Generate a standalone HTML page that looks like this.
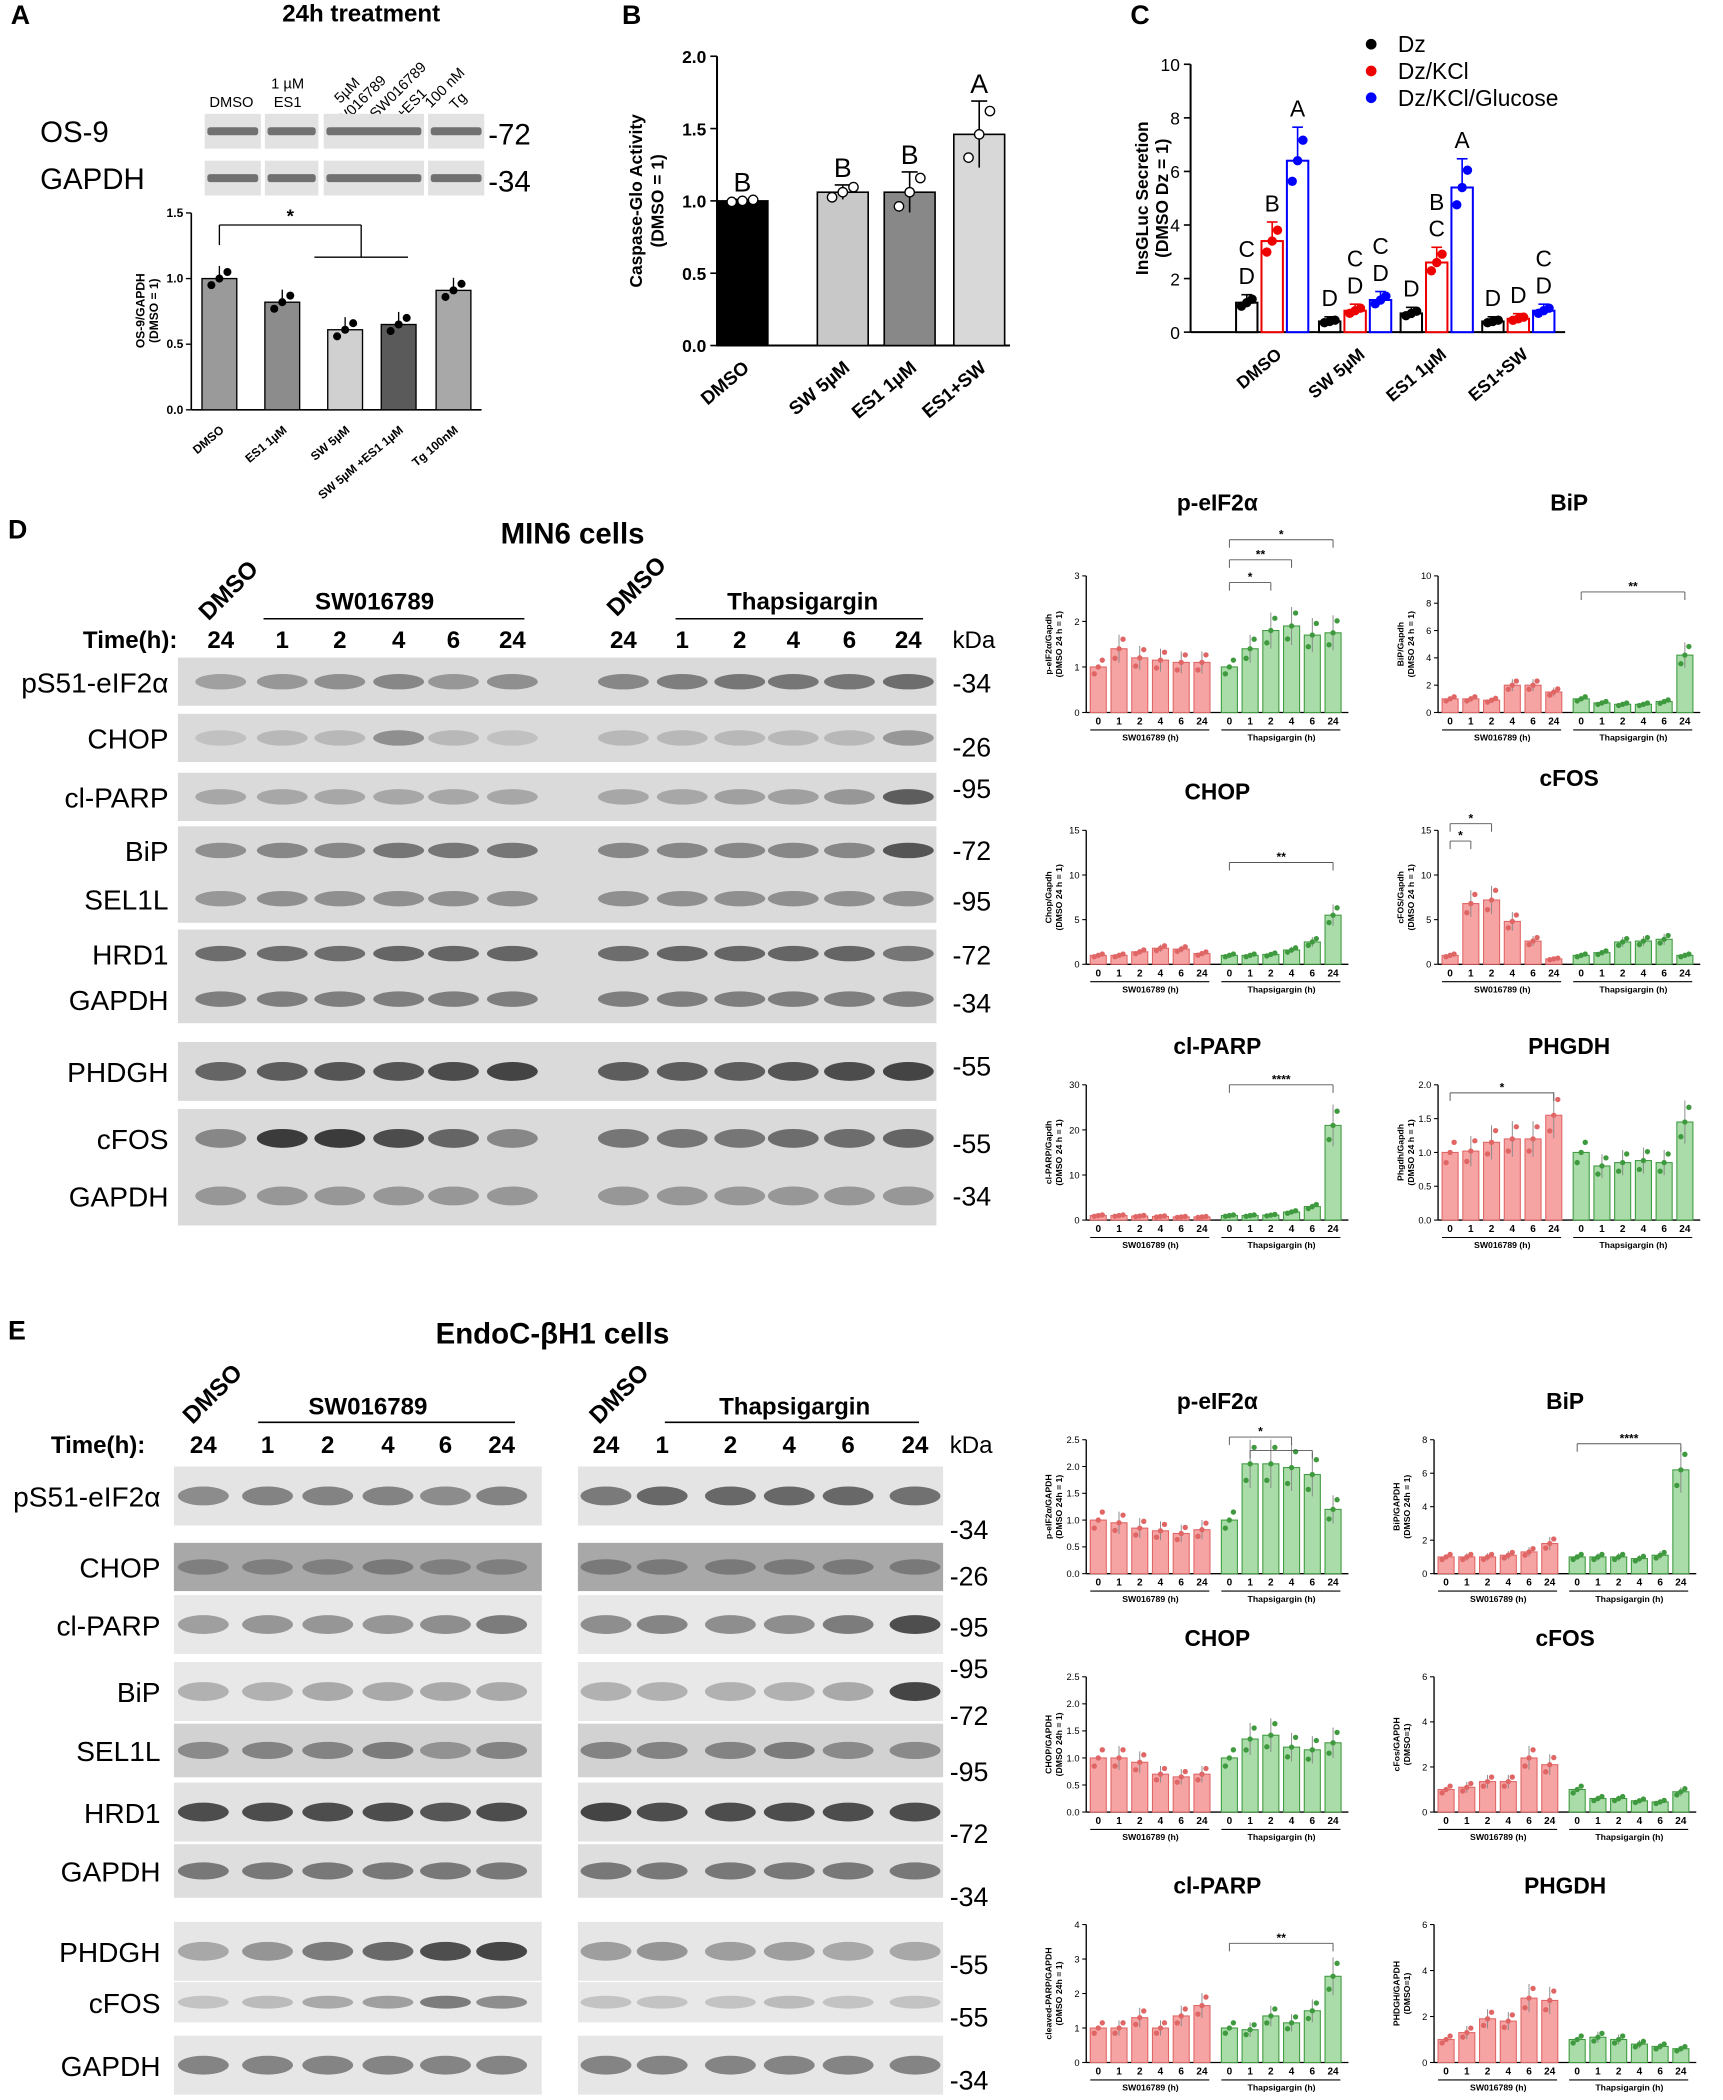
<!DOCTYPE html>
<html><head><meta charset="utf-8">
<style>
html,body{margin:0;padding:0;background:#fff;}
#wrap{width:1723px;height:2100px;overflow:hidden;}
svg text{font-family:"Liberation Sans","DejaVu Sans",sans-serif;}
</style></head>
<body>
<div id="wrap">
<svg id="fig" width="1723" height="2100" viewBox="0 0 1288 1568" preserveAspectRatio="none" xmlns="http://www.w3.org/2000/svg"></svg>
</div>
<script>
// ---------- DATA ----------
const aCats=["DMSO","ES1 1µM","SW 5µM","SW 5µM +ES1 1µM","Tg 100nM"];
const aVals=[1.0,0.82,0.61,0.65,0.91];
const aTicks=[0.0,0.5,1.0,1.5];
const bCats=["DMSO","SW 5µM","ES1 1µM","ES1+SW"];
const bVals=[1.0,1.06,1.06,1.46];
const bLetters=["B","B","B","A"];
const bTicks=[0.0,0.5,1.0,1.5,2.0];
const cCats=["DMSO","SW 5µM","ES1 1µM","ES1+SW"];
const cDz=[1.1,0.4,0.7,0.4];
const cKCl=[3.4,0.8,2.6,0.5];
const cGlu=[6.4,1.2,5.4,0.8];
const cSeries=["Dz","Dz/KCl","Dz/KCl/Glucose"];
const cTicks=[0,2,4,6,8,10];
const timeLabels=["0","1","2","4","6","24"];
// MIN6 mini charts
const mPeifRed=[1,1.4,1.2,1.15,1.1,1.1], mPeifGreen=[1,1.4,1.8,1.9,1.7,1.75], mPeifTicks=[0,1,2,3];
const mBipRed=[1,1,0.9,2,2,1.5], mBipGreen=[1,0.7,0.6,0.6,0.8,4.2], mBipTicks=[0,2,4,6,8,10];
const mChopRed=[1,1,1.4,1.8,1.7,1.2], mChopGreen=[1,1,1.1,1.6,2.5,5.5], mChopTicks=[0,5,10,15];
const mFosRed=[1,6.8,7.2,4.8,2.6,0.6], mFosGreen=[1,1.3,2.5,2.6,2.8,1.0], mFosTicks=[0,5,10,15];
const mParpRed=[1,1,0.9,0.8,0.7,0.7], mParpGreen=[1,1,1.1,1.8,3,21], mParpTicks=[0,10,20,30];
const mPhgRed=[1,1.02,1.15,1.2,1.2,1.55], mPhgGreen=[1,0.8,0.85,0.88,0.85,1.45], mPhgTicks=[0.0,0.5,1.0,1.5,2.0];
// EndoC mini charts
const ePeifRed=[1,0.95,0.85,0.8,0.75,0.82], ePeifGreen=[1,2.05,2.05,1.98,1.85,1.2], ePeifTicks=[0,0.5,1.0,1.5,2.0,2.5];
const eBipRed=[1,1,1,1.1,1.3,1.8], eBipGreen=[1,1,1,0.9,1.1,6.2], eBipTicks=[0,2,4,6,8];
const eChopRed=[1,1,0.92,0.7,0.65,0.7], eChopGreen=[1,1.35,1.42,1.2,1.15,1.28], eChopTicks=[0,0.5,1.0,1.5,2.0,2.5];
const eFosRed=[1,1.1,1.35,1.35,2.4,2.1], eFosGreen=[1,0.6,0.6,0.5,0.45,0.9], eFosTicks=[0,2,4,6];
const eParpRed=[1,1,1.3,1,1.35,1.65], eParpGreen=[1,0.95,1.35,1.15,1.5,2.5], eParpTicks=[0,1,2,3,4];
const ePhgRed=[1,1.3,1.9,1.8,2.8,2.7], ePhgGreen=[1,1.1,1.0,0.8,0.7,0.6], ePhgTicks=[0,2,4,6];

// ---------- HELPERS ----------
const NS="http://www.w3.org/2000/svg";
const svg=document.getElementById('fig');
function mk(tag,attrs,parent){const e=document.createElementNS(NS,tag);for(const k in attrs)e.setAttribute(k,attrs[k]);(parent||svg).appendChild(e);return e;}
function txt(x,y,s,size,opts,parent){opts=opts||{};const e=mk('text',{x:x,y:y,'font-size':size,'text-anchor':opts.anchor||'middle','font-weight':opts.bold?'bold':'normal',fill:opts.fill||'#000'},parent);if(opts.rot!==undefined)e.setAttribute('transform','rotate('+opts.rot+' '+x+' '+y+')');e.textContent=s;return e;}
function line(x1,y1,x2,y2,w,c,parent){return mk('line',{x1:x1,y1:y1,x2:x2,y2:y2,stroke:c||'#000','stroke-width':w||1},parent);}
function linScale(d0,d1,r0,r1){return v=>r0+(v-d0)/(d1-d0)*(r1-r0);}

[["A",8,18],["B",465,18],["C",845,18],["D",6,402],["E",6,1000]].forEach(p=>{
  const t=txt(p[1],p[2],p[0],20,{anchor:'start',bold:true});
  
  
});

// ---------- PANEL A ----------
(function(){
  const g=mk('g',{});
  
  
  txt(270,16,"24h treatment",18,{bold:true},g);
  const hdr=[["DMSO",173,80,0],["1 µM",215,66,0],["ES1",215,80,0]];
  hdr.forEach(h=>txt(h[1],h[2],h[0],11,{},g));
  txt(262,70,"5µM",11,{rot:-45},g);txt(270,80,"SW016789",11,{rot:-45},g);
  txt(300,70,"SW016789",11,{rot:-45},g);txt(310,80,"+ES1",11,{rot:-45},g);
  txt(335,68,"100 nM",11,{rot:-45},g);txt(345,78,"Tg",11,{rot:-45},g);
  const segs=[[153,195],[198,238],[242,317],[320,362]];
  [[98,"OS-9","-72"],[133,"GAPDH","-34"]].forEach(r=>{
    txt(30,r[0]+8,r[1],22,{anchor:'start'},g);
    txt(365,r[0]+10,r[2],22,{anchor:'start'},g);
    segs.forEach(s=>{
      mk('rect',{x:s[0],y:r[0]-13,width:s[1]-s[0],height:26,fill:'#e2e2e2'},g);
      mk('rect',{x:s[0]+2,y:r[0]-3,width:s[1]-s[0]-4,height:6,fill:'#555',opacity:0.8,rx:2},g);
    });
  });
  const y=linScale(0,1.5,306,159);
  const x0=143, cx=[164,211,258,298,339], bw=26;
  line(x0,159,x0,306,1.2,'#000',g);line(x0,306,360,306,1.2,'#000',g);
  aTicks.forEach(t=>{line(x0-4,y(t),x0,y(t),1,'#000',g);txt(x0-6,y(t)+3,t.toFixed(1),9,{anchor:'end',bold:true},g);});
  txt(108,232,"OS-9/GAPDH",9,{rot:-90,bold:true},g);txt(118,232,"(DMSO = 1)",9,{rot:-90,bold:true},g);
  const fills=['#9a9a9a','#8c8c8c','#d0d0d0','#5a5a5a','#a8a8a8'];
  aVals.forEach((v,i)=>{
    const b=mk('rect',{x:cx[i]-bw/2,y:y(v),width:bw,height:306-y(v),fill:fills[i],stroke:'#000','stroke-width':1},g);
    
    
    line(cx[i],y(v)-0.08*(147/1.5)*1.2,cx[i],y(v),1,'#000',g);
    [-6,0,6].forEach((d,k)=>mk('circle',{cx:cx[i]+d,cy:y(v+(k-1)*0.05),r:3,fill:'#000'},g));
    txt(cx[i]+4,322,aCats[i],9,{anchor:'end',bold:true,rot:-40},g);
  });
  line(164,168,164,183,1,'#000',g);line(164,168,270,168,1,'#000',g);line(270,168,270,192,1,'#000',g);line(235,192,305,192,1,'#000',g);
  txt(217,166,"*",14,{bold:true},g);
})();

// ---------- PANEL B ----------
(function(){
  const g=mk('g',{});
  
  
  const y=linScale(0,2,258,42), x0=536, cx=[555,630,680,732], bw=38;
  line(x0,42,x0,258,1.5,'#000',g);line(x0,258,755,258,1.5,'#000',g);
  bTicks.forEach(t=>{line(x0-5,y(t),x0,y(t),1.2,'#000',g);txt(x0-8,y(t)+5,t.toFixed(1),13,{anchor:'end',bold:true},g);});
  txt(480,150,"Caspase-Glo Activity",13,{rot:-90,bold:true},g);txt(496,150,"(DMSO = 1)",13,{rot:-90,bold:true},g);
  const fills=['#000','#c8c8c8','#888','#d8d8d8'];
  const errs=[0.01,0.05,0.14,0.23];
  bVals.forEach((v,i)=>{
    const b=mk('rect',{x:cx[i]-bw/2,y:y(v),width:bw,height:258-y(v),fill:fills[i],stroke:'#000','stroke-width':1.2},g);
    
    
    const e=errs[i];
    line(cx[i],y(v+e),cx[i],y(v-e),1.2,'#000',g);line(cx[i]-6,y(v+e),cx[i]+6,y(v+e),1.2,'#000',g);
    [-8,0,8].forEach((d,k)=>mk('circle',{cx:cx[i]+d,cy:y(v+(k-1)*e*0.7),r:3.5,fill:'#fff',stroke:'#000','stroke-width':1},g));
    txt(cx[i],y(v+e)-6,bLetters[i],20,{},g);
    txt(cx[i]+6,276,bCats[i],14,{anchor:'end',bold:true,rot:-40},g);
  });
})();

// ---------- PANEL C ----------
(function(){
  const g=mk('g',{});
  
  
  const y=linScale(0,10,248,48), x0=890;
  line(x0,48,x0,248,1.5,'#000',g);line(x0,248,1170,248,1.5,'#000',g);
  cTicks.forEach(t=>{line(x0-5,y(t),x0,y(t),1.2,'#000',g);txt(x0-8,y(t)+5,String(t),13,{anchor:'end'},g);});
  txt(858,148,"InsGLuc Secretion",13,{rot:-90,bold:true},g);txt(873,148,"(DMSO Dz = 1)",13,{rot:-90,bold:true},g);
  const centers=[951,1013,1074,1135], cols=['#000','#e00','#00f'], series=[cDz,cKCl,cGlu];
  const letters=[["C D","B","A"],["D","C D","C D"],["D","B C","A"],["D","D","C D"]];
  series.forEach((arr,s)=>{
    arr.forEach((v,i)=>{
      const cx=centers[i]+(s-1)*19;
      const b=mk('rect',{x:cx-8,y:y(v),width:16,height:248-y(v),fill:'#fff',stroke:cols[s],'stroke-width':1.5},g);
      
      
      const e=v*0.18+0.1;
      line(cx,y(v+e),cx,y(v),1.2,cols[s],g);line(cx-4,y(v+e),cx+4,y(v+e),1.2,cols[s],g);
      [-4,0,4].forEach((d,k)=>mk('circle',{cx:cx+d,cy:y(v*(1+(k-1)*0.12)),r:3.5,fill:cols[s]},g));
      const L=letters[i][s].split(" ");
      L.forEach((l,k)=>txt(cx,y(v+e)-8-(L.length-1-k)*20,l,17,{},g));
    });
    const le=mk('g',{},g);
    
    
    mk('circle',{cx:1025,cy:33+s*20,r:4,fill:cols[s]},le);
    txt(1045,39+s*20,cSeries[s],17,{anchor:'start'},le);
  });
  cCats.forEach((c,i)=>txt(centers[i]+8,266,c,13,{anchor:'end',bold:true,rot:-40},g));
})();

// ---------- BLOTS ----------
function blot(g,x1,x2,yc,h,lanes,dark,shade){
  mk('rect',{x:x1,y:yc-h/2,width:x2-x1,height:h,fill:shade||'#dcdcdc'},g);
  lanes.forEach((lx,i)=>{
    const d=dark[i%dark.length];
    mk('ellipse',{cx:lx,cy:yc,rx:19,ry:h*0.16,fill:'#333',opacity:d},g);
  });
}
(function(){
  const g=mk('g',{});
  
  
  txt(428,406,"MIN6 cells",22,{bold:true},g);
  txt(175,445,"DMSO",18,{bold:true,rot:-45},g);txt(480,442,"DMSO",18,{bold:true,rot:-45},g);
  txt(280,455,"SW016789",18,{bold:true},g);line(197,462,392,462,1.2,'#000',g);
  txt(600,455,"Thapsigargin",18,{bold:true},g);line(505,462,690,462,1.2,'#000',g);
  txt(62,484,"Time(h):",18,{anchor:'start',bold:true},g);
  const lanes=[165,211,254,298,339,383,466,510,553,593,635,679];
  const tl=["24","1","2","4","6","24","24","1","2","4","6","24"];
  lanes.forEach((x,i)=>txt(x,484,tl[i],18,{bold:true},g));
  txt(712,484,"kDa",18,{anchor:'start'},g);
  const rows=[["pS51-eIF2α",509,"-34",509,[0.35,0.4,0.45,0.5,0.4,0.45,0,0.5,0.55,0.6,0.6,0.6,0.65]],
    ["CHOP",551,"-26",557,[0.15,0.2,0.2,0.45,0.2,0.15,0,0.2,0.2,0.2,0.2,0.2,0.4]],
    ["cl-PARP",595,"-95",588,[0.3,0.3,0.3,0.3,0.3,0.3,0,0.3,0.3,0.35,0.35,0.4,0.75]],
    ["BiP",635,"-72",634,[0.45,0.5,0.5,0.6,0.6,0.6,0,0.5,0.5,0.5,0.5,0.5,0.8]],
    ["SEL1L",671,"-95",672,[0.4,0.45,0.45,0.45,0.45,0.45,0,0.45,0.45,0.45,0.45,0.45,0.45]],
    ["HRD1",712,"-72",712,[0.65,0.65,0.65,0.7,0.7,0.7,0,0.65,0.7,0.7,0.7,0.7,0.6]],
    ["GAPDH",746,"-34",748,[0.55,0.55,0.55,0.55,0.55,0.55,0,0.55,0.55,0.55,0.55,0.55,0.55]],
    ["PHDGH",800,"-55",795,[0.7,0.75,0.8,0.8,0.85,0.9,0,0.75,0.75,0.75,0.8,0.85,0.9]],
    ["cFOS",850,"-55",853,[0.5,0.95,0.95,0.85,0.7,0.5,0,0.6,0.6,0.6,0.65,0.65,0.7]],
    ["GAPDH",893,"-34",892,[0.4,0.4,0.4,0.4,0.4,0.4,0,0.4,0.4,0.4,0.4,0.4,0.4]]];
  rows.forEach(r=>{
    const rg=mk('g',{},g);
    
    
    const h=r[1]>=780?44:36;
    const d=r[4].slice(0,6).concat(r[4].slice(7));
    blot(rg,133,700,r[1],h,lanes,d,'#dadada');
    txt(126,r[1]+8,r[0],21,{anchor:'end'},rg);
    txt(712,r[3]+8,r[2],20,{anchor:'start'},rg);
  });
})();
(function(){
  const g=mk('g',{});
  
  
  txt(413,1003,"EndoC-βH1 cells",22,{bold:true},g);
  txt(163,1045,"DMSO",18,{bold:true,rot:-45},g);txt(467,1045,"DMSO",18,{bold:true,rot:-45},g);
  txt(275,1056,"SW016789",18,{bold:true},g);line(193,1062,385,1062,1.2,'#000',g);
  txt(594,1056,"Thapsigargin",18,{bold:true},g);line(497,1062,687,1062,1.2,'#000',g);
  txt(38,1085,"Time(h):",18,{anchor:'start',bold:true},g);
  const lanes=[152,200,245,290,333,375,453,495,546,590,634,684];
  const tl=["24","1","2","4","6","24","24","1","2","4","6","24"];
  lanes.forEach((x,i)=>txt(x,1085,tl[i],18,{bold:true},g));
  txt(710,1085,"kDa",18,{anchor:'start'},g);
  const rows=[["pS51-eIF2α",1117,44,[0.5,0.55,0.55,0.55,0.5,0.55,0.6,0.7,0.7,0.7,0.7,0.65],'#e4e4e4'],
    ["CHOP",1170,36,[0.35,0.35,0.35,0.4,0.35,0.35,0.4,0.4,0.4,0.4,0.4,0.4],'#a8a8a8'],
    ["cl-PARP",1213,44,[0.4,0.45,0.45,0.45,0.5,0.6,0.5,0.55,0.5,0.5,0.6,0.85],'#e8e8e8'],
    ["BiP",1263,44,[0.3,0.3,0.35,0.35,0.35,0.35,0.3,0.3,0.3,0.3,0.35,0.9],'#e8e8e8'],
    ["SEL1L",1307,40,[0.45,0.5,0.5,0.55,0.4,0.5,0.5,0.5,0.5,0.55,0.45,0.45],'#d2d2d2'],
    ["HRD1",1353,44,[0.85,0.85,0.85,0.85,0.8,0.85,0.9,0.85,0.85,0.85,0.85,0.85],'#e2e2e2'],
    ["GAPDH",1397,40,[0.6,0.6,0.6,0.6,0.6,0.6,0.6,0.6,0.6,0.6,0.6,0.6],'#dedede'],
    ["PHDGH",1457,44,[0.35,0.45,0.6,0.7,0.85,0.9,0.4,0.45,0.4,0.4,0.35,0.35],'#e6e6e6'],
    ["cFOS",1495,30,[0.2,0.25,0.35,0.4,0.6,0.5,0.2,0.2,0.2,0.25,0.2,0.2],'#e8e8e8'],
    ["GAPDH",1542,44,[0.55,0.55,0.55,0.55,0.55,0.55,0.55,0.55,0.55,0.55,0.55,0.55],'#e6e6e6']];
  rows.forEach(r=>{
    const rg=mk('g',{},g);
    
    
    blot(rg,130,405,r[1],r[2],lanes.slice(0,6),r[3].slice(0,6),r[4]);
    blot(rg,432,705,r[1],r[2],lanes.slice(6),r[3].slice(6),r[4]);
    txt(120,r[1]+8,r[0],21,{anchor:'end'},rg);
  });
  [["-34",1141],["-26",1176],["-95",1214],["-95",1245],["-72",1280],["-95",1322],["-72",1368],["-34",1415],["-55",1466],["-55",1505],["-34",1552]]
   .forEach(k=>txt(710,k[1]+8,k[0],20,{anchor:'start'},g));
})();

// ---------- MINI CHARTS ----------
function mini(name,title,ylab1,ylab2,ax,top,bot,ticks,red,green,sigs,toff){
  const g=mk('g',{});
  
  
  const ymax=ticks[ticks.length-1];
  const y=linScale(0,ymax,bot,top);
  txt(ax+98,top-toff,title,17,{bold:true},g);
  line(ax,top,ax,bot,1,'#000',g);line(ax,bot,ax+196,bot,1,'#000',g);
  const dec=ticks.some(u=>u%1);
  ticks.forEach(t=>{line(ax-3,y(t),ax,y(t),0.8,'#000',g);txt(ax-5,y(t)+2.5,dec?t.toFixed(1):String(t),7,{anchor:'end'},g);});
  txt(ax-26,(top+bot)/2,ylab1,6.5,{rot:-90,bold:true},g);txt(ax-18,(top+bot)/2,ylab2,6.5,{rot:-90,bold:true},g);
  const xs=[];
  [[red,'#f6a3a3','#e06666',ax+9],[green,'#a9dca9','#3f9a3f',ax+107]].forEach((S,s)=>{
    S[0].forEach((v,i)=>{
      const cx=S[3]+i*15.5; xs.push(cx);
      const b=mk('rect',{x:cx-6,y:y(v),width:12,height:bot-y(v),fill:S[1],stroke:S[2],'stroke-width':0.8},g);
      
      
      const e=i==0?0:v*0.22;
      if(e>0){line(cx,y(Math.min(ymax,v+e)),cx,y(Math.max(0,v-e)),0.7,'#888',g);}
      [-3,0,3].forEach((d,k)=>mk('circle',{cx:cx+d,cy:y(Math.max(0,v*(1+(k-1)*0.15))),r:2,fill:S[2]},g));
      txt(cx,bot+9,timeLabels[i],7.5,{bold:true},g);
    });
    const gx=S[3];
    line(gx-6,bot+13,gx+83,bot+13,0.8,'#000',g);
    txt(gx+39,bot+21,s?"Thapsigargin (h)":"SW016789 (h)",6.5,{bold:true},g);
  });
  (sigs||[]).forEach(sg=>{
    const yy=top+sg[2];
    line(xs[sg[0]],yy,xs[sg[1]],yy,0.7,'#555',g);
    line(xs[sg[0]],yy,xs[sg[0]],yy+6,0.7,'#555',g);line(xs[sg[1]],yy,xs[sg[1]],yy+6,0.7,'#555',g);
    txt((xs[sg[0]]+xs[sg[1]])/2,yy-1,sg[3],9,{bold:true},g);
  });
}
// MIN6
mini('min6-peif2a','p-eIF2α','p-eIF2α/Gapdh','(DMSO 24 h = 1)',812,430,532,mPeifTicks,mPeifRed,mPeifGreen,[[6,8,5,"*"],[6,9,-12,"**"],[6,11,-27,"*"]],49);
mini('min6-bip','BiP','BiP/Gapdh','(DMSO 24 h = 1)',1075,430,532,mBipTicks,mBipRed,mBipGreen,[[6,11,12,"**"]],49);
mini('min6-chop','CHOP','Chop/Gapdh','(DMSO 24 h = 1)',812,620,720,mChopTicks,mChopRed,mChopGreen,[[6,11,24,"**"]],23);
mini('min6-cfos','cFOS','cFOS/Gapdh','(DMSO 24 h = 1)',1075,620,720,mFosTicks,mFosRed,mFosGreen,[[0,1,8,"*"],[0,2,-5,"*"]],33);
mini('min6-clparp','cl-PARP','cl-PARP/Gapdh','(DMSO 24 h = 1)',812,810,911,mParpTicks,mParpRed,mParpGreen,[[6,11,0,"****"]],23);
mini('min6-phgdh','PHGDH','Phgdh/Gapdh','(DMSO 24 h = 1)',1075,810,911,mPhgTicks,mPhgRed,mPhgGreen,[[0,5,6,"*"]],23);
// EndoC
mini('endoc-peif2a','p-eIF2α','p-eIF2α/GAPDH','(DMSO 24h = 1)',812,1075,1175,ePeifTicks,ePeifRed,ePeifGreen,[[6,9,-2,"*"],[7,10,8,""]],23);
mini('endoc-bip','BiP','BiP/GAPDH','(DMSO 24h = 1)',1072,1075,1175,eBipTicks,eBipRed,eBipGreen,[[6,11,3,"****"]],23);
mini('endoc-chop','CHOP','CHOP/GAPDH','(DMSO 24h = 1)',812,1252,1353,eChopTicks,eChopRed,eChopGreen,[],23);
mini('endoc-cfos','cFOS','cFos/GAPDH','(DMSO=1)',1072,1252,1353,eFosTicks,eFosRed,eFosGreen,[],23);
mini('endoc-clparp','cl-PARP','cleaved-PARP/GAPDH','(DMSO 24h = 1)',812,1437,1540,eParpTicks,eParpRed,eParpGreen,[[6,11,14,"**"]],23);
mini('endoc-phgdh','PHGDH','PHDGH/GAPDH','(DMSO=1)',1072,1437,1540,ePhgTicks,ePhgRed,ePhgGreen,[],23);
</script>
</body></html>
